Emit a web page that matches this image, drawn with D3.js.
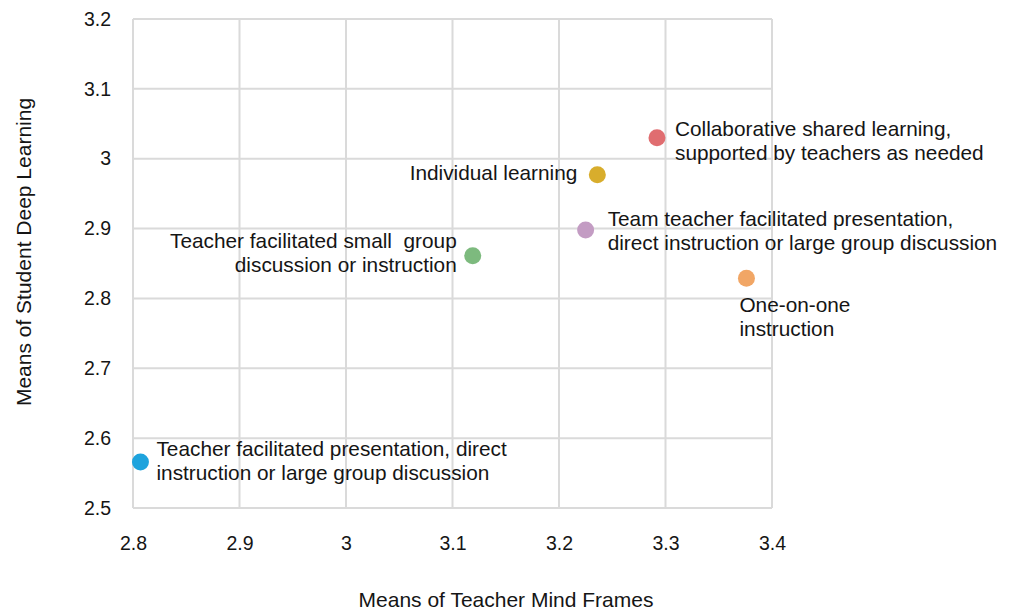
<!DOCTYPE html>
<html>
<head>
<meta charset="utf-8">
<script src="https://cdn.jsdelivr.net/npm/d3@7"></script>
<style>
  body { margin: 0; background: #fff; overflow: hidden; }
  svg { display: block; }
  text { font-family: "Liberation Sans", Arial, sans-serif; fill: #151515; }
</style>
</head>
<body>
<svg id="chart"></svg>
<script>
// data
const names = [
  'Teacher facilitated presentation, direct instruction or large group discussion',
  'Teacher facilitated small  group discussion or instruction',
  'Team teacher facilitated presentation, direct instruction or large group discussion',
  'Individual learning',
  'Collaborative shared learning, supported by teachers as needed',
  'One-on-one instruction'
];
const labelLines = [
  ['Teacher facilitated presentation, direct', 'instruction or large group discussion'],
  ['Teacher facilitated small  group', 'discussion or instruction'],
  ['Team teacher facilitated presentation,', 'direct instruction or large group discussion'],
  ['Individual learning'],
  ['Collaborative shared learning,', 'supported by teachers as needed'],
  ['One-on-one', 'instruction']
];
const mindFrames = [2.807, 3.119, 3.225, 3.236, 3.292, 3.376];
const deepLearning = [2.566, 2.861, 2.898, 2.977, 3.030, 2.829];
const colors = ['#1ea3dd', '#7dba7e', '#c39cc3', '#d8ad2c', '#e06d70', '#f1a665'];
const xTicks = [2.8, 2.9, 3, 3.1, 3.2, 3.3, 3.4];
const yTicks = [2.5, 2.6, 2.7, 2.8, 2.9, 3, 3.1, 3.2];

// label placement: anchor side and offset from point
const labelPos = [
  { anchor: 'start', dx: 16, dy: -13 },
  { anchor: 'end', dx: -16, dy: -15 },
  { anchor: 'start', dx: 22, dy: -11 },
  { anchor: 'end', dx: -20, dy: -2 },
  { anchor: 'start', dx: 18, dy: -9 },
  { anchor: 'start', dx: -7, dy: 27 }
];

const width = 1011;
const height = 615;
const margin = { top: 19, right: 239, bottom: 107, left: 133 };
const innerWidth = width - margin.left - margin.right;
const innerHeight = height - margin.top - margin.bottom;
const fontFamily = '"Liberation Sans", Arial, sans-serif';

const svg = d3.select('#chart')
  .attr('width', width)
  .attr('height', height);

const g = svg.append('g')
  .attr('transform', `translate(${margin.left},${margin.top})`);

const xScale = d3.scaleLinear().domain([2.8, 3.4]).range([0, innerWidth]);
const yScale = d3.scaleLinear().domain([2.5, 3.2]).range([innerHeight, 0]);

// grid
g.selectAll('.vgrid')
  .data(xTicks)
  .enter()
  .append('line')
  .attr('x1', d => xScale(d))
  .attr('x2', d => xScale(d))
  .attr('y1', 0)
  .attr('y2', innerHeight)
  .attr('stroke', '#dadada')
  .attr('stroke-width', 2);

g.selectAll('.hgrid')
  .data(yTicks)
  .enter()
  .append('line')
  .attr('x1', 0)
  .attr('x2', innerWidth)
  .attr('y1', d => yScale(d))
  .attr('y2', d => yScale(d))
  .attr('stroke', '#dadada')
  .attr('stroke-width', 2);

// axes (labels only)
const xAxis = g.append('g')
  .attr('transform', `translate(0,${innerHeight})`)
  .call(d3.axisBottom(xScale).tickValues(xTicks).tickSize(0).tickPadding(30).tickFormat(d3.format('')));
const yAxis = g.append('g')
  .call(d3.axisLeft(yScale).tickValues(yTicks).tickSize(0).tickPadding(22).tickFormat(d3.format('')));
[xAxis, yAxis].forEach(a => {
  a.select('.domain').remove();
  a.selectAll('text').attr('font-size', 19.5).attr('font-family', fontFamily).attr('fill', '#151515');
});
xAxis.selectAll('text').attr('dy', '0.6em');

// axis titles
svg.append('text')
  .attr('x', 506)
  .attr('y', 607)
  .attr('text-anchor', 'middle')
  .attr('font-size', 21)
  .text('Means of Teacher Mind Frames');

svg.append('text')
  .attr('transform', 'translate(31,252) rotate(-90)')
  .attr('text-anchor', 'middle')
  .attr('font-size', 21)
  .text('Means of Student Deep Learning');

// points
const data = names.map((n, i) => ({
  name: n, x: mindFrames[i], y: deepLearning[i], color: colors[i], lines: labelLines[i], pos: labelPos[i]
}));

g.selectAll('circle')
  .data(data)
  .enter()
  .append('circle')
  .attr('cx', d => xScale(d.x))
  .attr('cy', d => yScale(d.y))
  .attr('r', 8.5)
  .attr('fill', d => d.color);

// labels
const labels = g.selectAll('.lbl')
  .data(data)
  .enter()
  .append('text')
  .attr('class', 'lbl')
  .attr('font-size', 20.8)
  .attr('text-anchor', d => d.pos.anchor)
  .attr('transform', d => `translate(${xScale(d.x) + d.pos.dx},${yScale(d.y) + d.pos.dy})`)
  .style('white-space', 'pre');

labels.selectAll('tspan')
  .data(d => d.lines)
  .enter()
  .append('tspan')
  .attr('x', 0)
  .attr('dy', (d, i) => i === 0 ? '0.35em' : 24)
  .text(d => d);
</script>
</body>
</html>
